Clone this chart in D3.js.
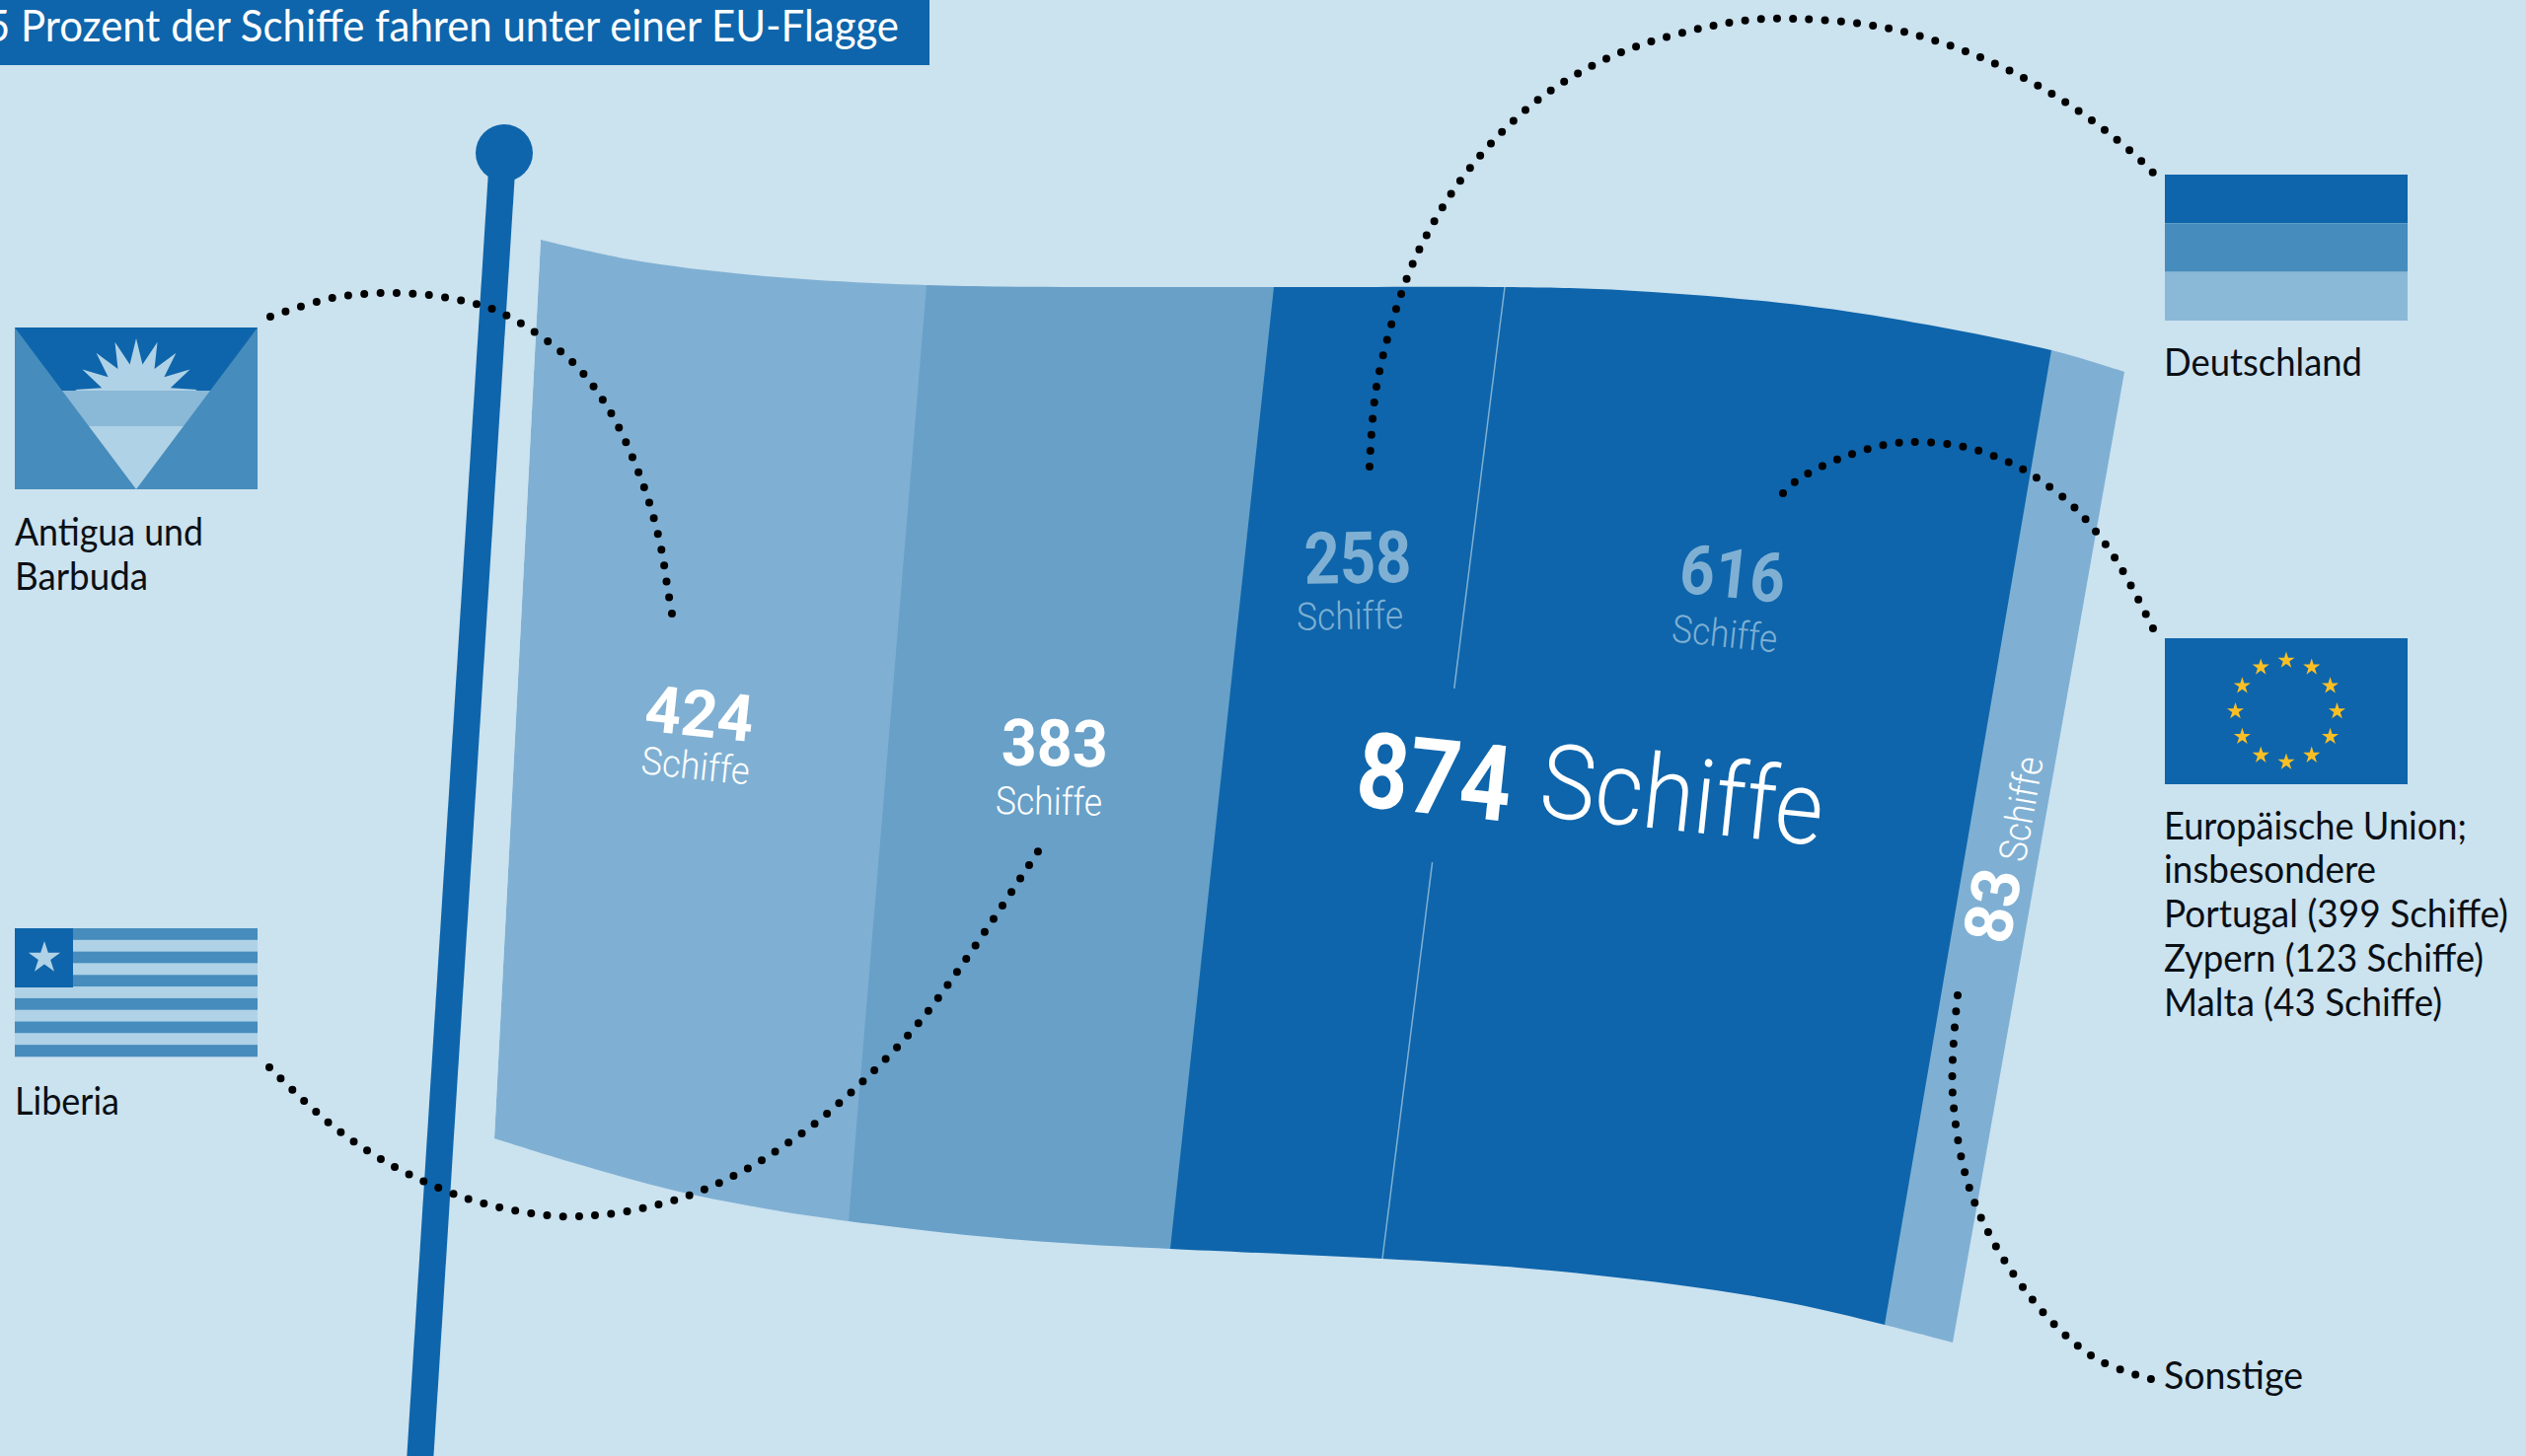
<!DOCTYPE html>
<html lang="de">
<head>
<meta charset="UTF-8">
<title>Schiffe unter EU-Flagge</title>
<script src="https://d3js.org/d3.v7.min.js"></script>
<style>
    html, body { margin: 0; background: #cbe2ef; }
    svg { display: block; overflow: hidden; }
    .caption { font-family: Lato, sans-serif; font-weight: 400; fill: #0a0f14; font-size: 38px; }
    .num { font-family: Roboto, sans-serif; font-weight: 700; }
    .unit { font-family: Roboto, sans-serif; font-weight: 300; }
</style>
</head>
<body>
<script>
// data
const categories = ['Antigua und Barbuda', 'Liberia', 'Deutschland', 'Europäische Union', 'Sonstige'];
const shipCounts = [424, 383, 258, 616, 83];
const unitLabel = 'Schiffe';
const headline = '5 Prozent der Schiffe fahren unter einer EU-Flagge';
const euBreakdown = ['Portugal (399 Schiffe)', 'Zypern (123 Schiffe)', 'Malta (43 Schiffe)'];

const width = 2560, height = 1476;
const blue = '#0e65ab', mid = '#468cbc', soft = '#8ab8d7', pale = '#b0d2e6', flagLight = '#7fb0d3', flagMid = '#68a0c8';

const svg = d3.select('body').append('svg')
    .attr('width', width).attr('height', height);
svg.append('rect').attr('width', width).attr('height', height).attr('fill', '#cbe2ef');

// the flag is one stack: position along the cloth = cumulative ship count
const cumulative = d3.cumsum(shipCounts);
const stackDomain = [0, ...cumulative];
const xTop = d3.scaleLinear().domain(stackDomain).range([548, 939, 1291, 1525, 2079, 2153]);
const xBottom = d3.scaleLinear().domain(stackDomain).range([501, 860, 1186, 1401, 1910, 1979]);

// wavy edges of the cloth
const topKnots = [[548, 243], [638, 263], [765, 279], [939, 289], [1291, 291], [1525, 291], [1641, 294], [1804, 307], [1912, 322], [2079, 355], [2153, 377]];
const bottomKnots = [[501, 1154], [582, 1179], [684, 1207], [786, 1227], [860, 1238], [990, 1253], [1092, 1261], [1186, 1266], [1401, 1276], [1538, 1285], [1696, 1302], [1815, 1321], [1910, 1343], [1979, 1361]];

const edge = d3.line().curve(d3.curveCatmullRom.alpha(0.5));
const outline = edge(topKnots) + 'L' + edge(bottomKnots.slice().reverse()).slice(1) + 'Z';

svg.append('clipPath').attr('id', 'cloth').append('path').attr('d', outline);

// straight line across the cloth at count v, t runs from top edge (0) to bottom edge (1)
const yTopAt = d3.scaleLinear().domain(topKnots.map(d => d[0])).range(topKnots.map(d => d[1]));
const yBottomAt = d3.scaleLinear().domain(bottomKnots.map(d => d[0])).range(bottomKnots.map(d => d[1]));
const across = (v, t) => {
    const x0 = xTop(v), x1 = xBottom(v), y0 = yTopAt(x0), y1 = yBottomAt(x1);
    return [x0 + (x1 - x0) * t, y0 + (y1 - y0) * t];
};

// pole behind the cloth
svg.append('line')
    .attr('x1', 510).attr('y1', 150).attr('x2', 425).attr('y2', 1490)
    .attr('stroke', blue).attr('stroke-width', 27);
svg.append('circle').attr('cx', 511).attr('cy', 155).attr('r', 29).attr('fill', blue);

const segmentColor = d3.scaleOrdinal().domain(categories).range([flagLight, flagMid, blue, blue, flagLight]);

svg.append('g').attr('clip-path', 'url(#cloth)')
  .selectAll('path')
  .data(categories)
  .join('path')
    .attr('fill', d => segmentColor(d))
    .attr('d', (d, i) => {
        const v0 = i ? cumulative[i - 1] : 0;
        const v1 = cumulative[i];
        // tiny overlap to the right so no seams show, outer sides pushed out for the clip
        const a0 = across(v0, -0.1), b0 = across(v0, 1.1);
        const a1 = across(v1, -0.1), b1 = across(v1, 1.1);
        return d3.line()([a0, [a1[0] + 1, a1[1]], [b1[0] + 1, b1[1]], b0]) + 'Z';
    });

// thin divider Deutschland / EU, broken around the 874 label
const split = cumulative[2];
[[0, 0.413], [0.592, 1]].forEach(r => {
    svg.append('path')
        .attr('d', d3.line()([across(split, r[0]), across(split, r[1])]))
        .attr('stroke', flagLight).attr('stroke-width', 1.5).attr('fill', 'none');
});

// labels on the cloth
const germanyAndEu = shipCounts[2] + shipCounts[3];
const clothLabels = [
    {num: shipCounts[0], nx: 709, ny: 723, nw: 110, ns: 66, ux: 705, uy: 776, uw: 110, us: 39, r: 6, c: '#fff'},
    {num: shipCounts[1], nx: 1069, ny: 753, nw: 108, ns: 66, ux: 1063, uy: 812, uw: 108, us: 39, r: 1, c: '#fff'},
    {num: shipCounts[2], nx: 1376, ny: 565, nw: 109, ns: 73, ux: 1368, uy: 624, uw: 108, us: 39, r: -1, c: flagLight},
    {num: shipCounts[3], nx: 1756, ny: 581, nw: 107, ns: 70, ux: 1748, uy: 642, uw: 107, us: 39, r: 6, c: flagLight},
    {num: germanyAndEu, nx: 1454, ny: 787, nw: 157, ns: 107, ux: 1705, uy: 805, uw: 288, us: 105, r: 6, c: '#fff'},
    {num: shipCounts[4], nx: 2019, ny: 918, nw: 75, ns: 68, ux: 2048, uy: 820, uw: 107, us: 39, r: -80, c: '#fff'}
];
clothLabels.forEach(d => {
    svg.append('text').attr('class', 'num')
        .attr('transform', `translate(${d.nx},${d.ny}) rotate(${d.r})`)
        .attr('text-anchor', 'middle').attr('dy', '.355em')
        .attr('font-size', d.ns).attr('fill', d.c)
        .attr('textLength', d.nw).attr('lengthAdjust', 'spacingAndGlyphs')
        .text(d.num);
    svg.append('text').attr('class', 'unit')
        .attr('transform', `translate(${d.ux},${d.uy}) rotate(${d.r})`)
        .attr('text-anchor', 'middle').attr('dy', '.355em')
        .attr('font-size', d.us).attr('fill', d.c)
        .attr('textLength', d.uw).attr('lengthAdjust', 'spacingAndGlyphs')
        .text(unitLabel);
});

// headline bar
svg.append('rect').attr('width', 942).attr('height', 66).attr('fill', blue);
svg.append('text')
    .attr('x', -14).attr('y', 42)
    .attr('font-family', 'Lato, sans-serif').attr('font-size', 45).attr('fill', '#fff')
    .attr('textLength', 925).attr('lengthAdjust', 'spacingAndGlyphs')
    .text(headline);

// small flags
const starPath = (r) => d3.symbol(d3.symbolStar, r * r / 0.8908)();

// Antigua
const antigua = svg.append('g');
antigua.append('rect').attr('x', 15).attr('y', 332).attr('width', 246).attr('height', 164).attr('fill', mid);
antigua.append('path').attr('d', 'M90,432H186L138,496Z').attr('fill', pale);
antigua.append('path').attr('d', 'M63,396H213L186,432H90Z').attr('fill', soft);
antigua.append('path').attr('d', 'M15,332H261L213,396H63Z').attr('fill', blue);
svg.append('clipPath').attr('id', 'sky').append('rect').attr('x', 15).attr('y', 332).attr('width', 246).attr('height', 64);
const sunPoints = d3.range(36).map(i => [i * Math.PI / 18, i % 2 ? 37 : 63]);
antigua.append('g').attr('clip-path', 'url(#sky)')
  .append('path')
    .attr('d', d3.lineRadial().angle(d => d[0]).radius(d => d[1])(sunPoints) + 'Z')
    .attr('fill', pale)
    .attr('transform', 'translate(138,406)');

// Liberia
const stripes = d3.scaleBand().domain(d3.range(11)).range([941, 1071]);
svg.append('g').selectAll('rect').data(d3.range(11)).join('rect')
    .attr('x', 15).attr('width', 246)
    .attr('y', d => stripes(d)).attr('height', stripes.bandwidth() + 0.3)
    .attr('fill', d => d % 2 ? pale : mid);
svg.append('rect').attr('x', 15).attr('y', 941).attr('width', 59).attr('height', 60).attr('fill', blue);
svg.append('path').attr('d', starPath(17)).attr('transform', 'translate(45,971)').attr('fill', pale);

// Germany
const bands = d3.scaleBand().domain([blue, mid, soft]).range([177, 325]);
svg.append('g').selectAll('rect').data(bands.domain()).join('rect')
    .attr('x', 2194).attr('width', 246)
    .attr('y', d => bands(d)).attr('height', bands.bandwidth())
    .attr('fill', d => d);

// EU
svg.append('rect').attr('x', 2194).attr('y', 647).attr('width', 246).attr('height', 148).attr('fill', blue);
svg.append('g').selectAll('path').data(d3.range(12)).join('path')
    .attr('d', starPath(9))
    .attr('fill', '#fbbf24')
    .attr('transform', d => {
        const a = d * Math.PI / 6;
        return `translate(${2317 + 51.5 * Math.sin(a)},${721 - 51.5 * Math.cos(a)})`;
    });

// captions
const captions = [
    {t: 'Antigua und', x: 15, y: 553, w: 191},
    {t: 'Barbuda', x: 15, y: 598, w: 135},
    {t: categories[1], x: 15, y: 1130, w: 106},
    {t: categories[2], x: 2193, y: 381, w: 201},
    {t: categories[3] + ';', x: 2193, y: 851, w: 307},
    {t: 'insbesondere', x: 2193, y: 895, w: 215},
    {t: euBreakdown[0], x: 2193, y: 940, w: 349},
    {t: euBreakdown[1], x: 2193, y: 985, w: 324},
    {t: euBreakdown[2], x: 2193, y: 1030, w: 282},
    {t: categories[4], x: 2193, y: 1408, w: 141}
];
svg.append('g').selectAll('text').data(captions).join('text')
    .attr('class', 'caption')
    .attr('x', d => d.x).attr('y', d => d.y)
    .attr('textLength', d => d.w).attr('lengthAdjust', 'spacingAndGlyphs')
    .text(d => d.t);

// dotted leaders, drawn last
const leaders = [
    [[274, 321], [337, 302], [400, 297], [460, 303], [510, 318], [577, 364], [617, 415], [651, 489], [669, 551], [677, 599], [681, 622]],
    [[273, 1082], [333, 1138], [386, 1175], [444, 1204], [490, 1220], [554, 1232], [587, 1233], [635, 1228], [698, 1212], [757, 1185], [798, 1159], [837, 1130], [931, 1037], [1052, 863]],
    [[1388, 473], [1395, 392], [1420, 298], [1446, 238], [1490, 170], [1559, 101], [1643, 53], [1753, 23], [1818, 19], [1915, 29], [2007, 58], [2094, 104], [2159, 153], [2182, 175]],
    [[1807, 500], [1821, 487], [1864, 465], [1910, 451], [1943, 448], [1991, 453], [2037, 469], [2065, 485], [2103, 515], [2143, 565], [2182, 637]],
    [[1984, 1009], [1979, 1110], [2000, 1216], [2057, 1314], [2122, 1376], [2180, 1398]]
];
const leaderLine = d3.line().curve(d3.curveCatmullRom.alpha(0.5));
svg.append('g').selectAll('path').data(leaders).join('path')
    .attr('d', d => leaderLine(d))
    .attr('fill', 'none').attr('stroke', '#000').attr('stroke-width', 8)
    .attr('stroke-linecap', 'round')
    .attr('stroke-dasharray', function() {
        // fit the dot gap so a dot lands on both ends (a hair short, or the last one gets lost)
        const len = this.getTotalLength();
        return `0 ${len / Math.round(len / 16.3) - 0.01}`;
    });
</script>
</body>
</html>
